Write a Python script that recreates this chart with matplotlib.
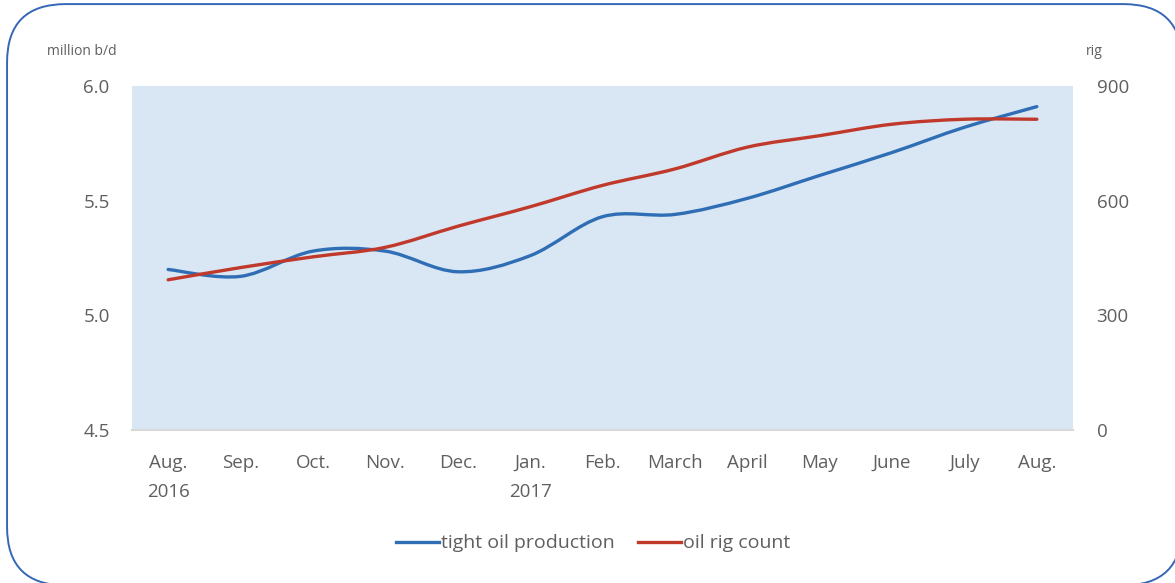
import matplotlib.pyplot as plt
import numpy as np
from matplotlib.patches import FancyBboxPatch
from matplotlib.path import Path
from matplotlib.patches import PathPatch
from matplotlib.lines import Line2D

plt.rcParams['font.family'] = ['Open Sans', 'DejaVu Sans']

# monthly categories, Aug. 2016 - Aug. 2017
months = ['Aug.\n2016', 'Sep.', 'Oct.', 'Nov.', 'Dec.', 'Jan.\n2017', 'Feb.',
          'March', 'April', 'May', 'June', 'July', 'Aug.']

# tight oil production, million b/d (left axis)
tight_oil = [5.20, 5.17, 5.28, 5.28, 5.19, 5.26, 5.43, 5.44, 5.51, 5.61, 5.71, 5.82, 5.91]

# oil rig count (right axis)
rig_count = [393, 425, 453, 478, 533, 584, 640, 683, 740, 770, 800, 813, 813]

left_ticks = [4.5, 5.0, 5.5, 6.0]
right_ticks = [0, 300, 600, 900]

blue = '#2f6eb5'
red = '#c0392b'
grey_text = '#5f5f5f'


def smooth_path(xs, ys, tension=0.5):
    # Bezier path through every point, control points from the neighbours (like a spreadsheet "smoothed line")
    pts = np.column_stack([xs, ys]).astype(float)
    verts = [pts[0]]
    codes = [Path.MOVETO]
    n = len(pts)
    for i in range(n - 1):
        p0 = pts[i - 1] if i > 0 else pts[i]
        p1 = pts[i]
        p2 = pts[i + 1]
        p3 = pts[i + 2] if i + 2 < n else pts[i + 1]
        c1 = p1 + (p2 - p0) * tension / 3.0
        c2 = p2 - (p3 - p1) * tension / 3.0
        verts += [c1, c2, p2]
        codes += [Path.CURVE4, Path.CURVE4, Path.CURVE4]
    return Path(verts, codes)


fig = plt.figure(figsize=(11.75, 5.83), dpi=100)
fig.patch.set_facecolor('white')

# rounded blue frame around the whole chart
frame = FancyBboxPatch((0.006, -0.004), 1.0, 0.997, boxstyle='round,pad=0,rounding_size=0.05',
                       transform=fig.transFigure, facecolor='white', edgecolor='#3567b5',
                       linewidth=1.4, mutation_aspect=2.0, zorder=-10)
fig.patches.append(frame)

ax = fig.add_axes([0.1123, 0.2624, 0.8009, 0.5901])
ax.set_facecolor('#d9e7f4')
x = np.arange(len(months))

ax.add_patch(PathPatch(smooth_path(x, tight_oil), facecolor='none', edgecolor=blue,
                       linewidth=2.4, capstyle='round', zorder=3))
ax.set_xlim(-0.5, len(months) - 0.5)
ax.set_ylim(4.5, 6.0)
ax.set_yticks(left_ticks)
ax.set_yticklabels(['%.1f' % v for v in left_ticks])
ax.set_xticks(x)
ax.set_xticklabels(months, linespacing=1.8)

ax2 = ax.twinx()
ax2.add_patch(PathPatch(smooth_path(x, rig_count), facecolor='none', edgecolor=red,
                        linewidth=2.4, capstyle='round', zorder=3))
ax2.set_ylim(0, 900)
ax2.set_yticks(right_ticks)

for a in (ax, ax2):
    for s in a.spines.values():
        s.set_visible(False)
    a.tick_params(length=0, labelsize=13.5, colors=grey_text)
ax.tick_params(axis='y', pad=16)
ax.tick_params(axis='x', pad=17)
ax2.tick_params(axis='y', pad=17)
ax.spines['bottom'].set_visible(True)
ax.spines['bottom'].set_color('#d9d9d9')
ax.spines['bottom'].set_linewidth(1.5)

fig.text(0.040, 0.912, 'million b/d', fontsize=10, color=grey_text, ha='left', va='center')
fig.text(0.924, 0.912, 'rig', fontsize=10, color=grey_text, ha='left', va='center')

handles = [Line2D([], [], color=blue, linewidth=2.4),
           Line2D([], [], color=red, linewidth=2.4)]
fig.legend(handles, ['tight oil production', 'oil rig count'], loc='center',
           bbox_to_anchor=(0.505, 0.068), ncol=2, frameon=False, fontsize=14,
           handlelength=2.2, handletextpad=0.1, columnspacing=1.2, labelcolor=grey_text)

fig.savefig('out.png', dpi=100, facecolor='white')
